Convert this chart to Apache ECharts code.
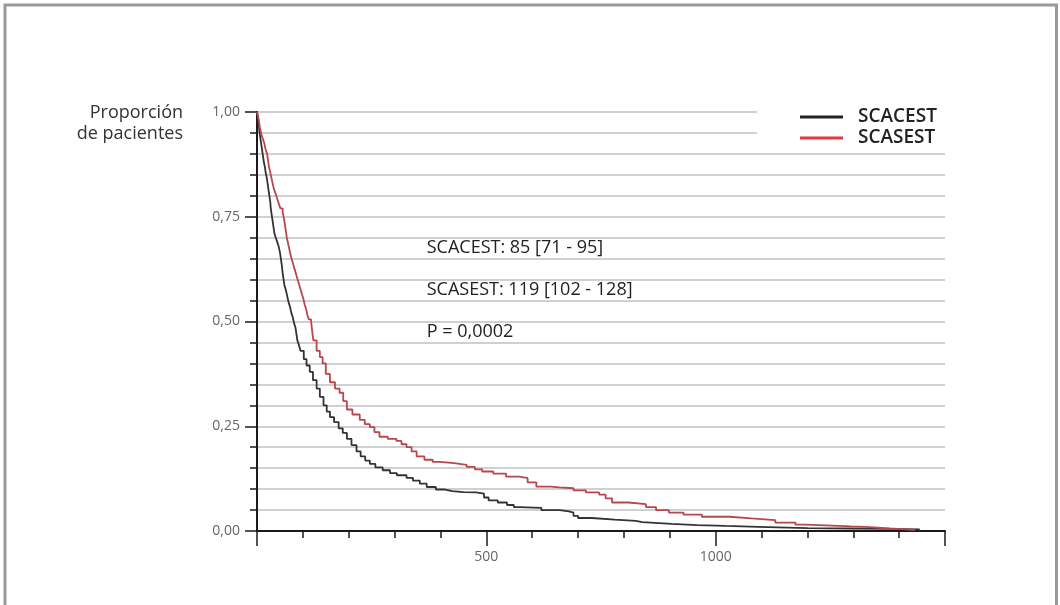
<!DOCTYPE html>
<html>
<head>
<meta charset="utf-8">
<script src="https://cdn.jsdelivr.net/npm/echarts@6/dist/echarts.min.js"></script>
<style>
  html, body { margin: 0; padding: 0; background: #fff; }
  #chart { width: 1060px; height: 605px; }
</style>
</head>
<body>
<div id="chart"></div>
<script>
// ---- Data (Kaplan-Meier step curves) ----
const seriesNames = ['SCACEST', 'SCASEST'];

const scacestTime = [0, 2, 4, 5, 7, 9, 11, 13, 15, 17, 19, 21, 23, 25, 27, 29, 30, 32, 34, 36, 38, 41, 44, 47, 50, 52, 54, 56, 58, 60, 63, 66, 69, 72, 75, 78, 81, 84, 86, 88, 91, 95, 102, 108, 115, 122, 130, 137, 145, 152, 159, 168, 178, 187, 196, 206, 217, 226, 236, 246, 258, 274, 290, 305, 326, 340, 355, 370, 390, 410, 426, 450, 478, 495, 505, 525, 545, 560, 572, 620, 660, 680, 690, 700, 730, 780, 826, 840, 904, 960, 1022, 1093, 1200, 1296, 1380, 1445];
const scacestSurv = [1.00, 0.99, 0.97, 0.955, 0.94, 0.925, 0.91, 0.895, 0.88, 0.87, 0.855, 0.845, 0.83, 0.815, 0.80, 0.785, 0.77, 0.755, 0.74, 0.725, 0.71, 0.70, 0.69, 0.68, 0.665, 0.65, 0.635, 0.615, 0.60, 0.585, 0.575, 0.56, 0.545, 0.535, 0.52, 0.51, 0.495, 0.485, 0.47, 0.455, 0.445, 0.43, 0.41, 0.395, 0.38, 0.36, 0.34, 0.32, 0.30, 0.285, 0.272, 0.26, 0.245, 0.234, 0.22, 0.205, 0.19, 0.178, 0.168, 0.16, 0.152, 0.145, 0.138, 0.133, 0.127, 0.12, 0.113, 0.105, 0.099, 0.095, 0.093, 0.092, 0.089, 0.08, 0.073, 0.068, 0.062, 0.057, 0.055, 0.05, 0.047, 0.044, 0.036, 0.031, 0.027, 0.024, 0.021, 0.017, 0.014, 0.012, 0.010, 0.007, 0.006, 0.005, 0.004, 0.004];

const scasestTime = [0, 2, 4, 6, 8, 10, 13, 16, 19, 22, 24, 26, 28, 30, 33, 36, 39, 42, 45, 48, 51, 56, 59, 61, 63, 65, 68, 71, 74, 78, 82, 86, 90, 94, 98, 101, 104, 107, 110, 113, 118, 121, 123, 130, 137, 143, 150, 159, 170, 180, 188, 196, 208, 224, 235, 246, 256, 267, 285, 304, 315, 326, 337, 348, 365, 383, 398, 430, 457, 475, 491, 515, 543, 572, 590, 609, 640, 659, 690, 717, 746, 760, 774, 810, 848, 870, 898, 930, 970, 1030, 1078, 1130, 1174, 1196, 1296, 1326, 1380, 1413, 1435];
const scasestSurv = [1.00, 0.99, 0.98, 0.965, 0.955, 0.945, 0.935, 0.925, 0.91, 0.90, 0.885, 0.87, 0.86, 0.85, 0.835, 0.82, 0.81, 0.80, 0.79, 0.78, 0.77, 0.76, 0.745, 0.73, 0.715, 0.70, 0.685, 0.67, 0.655, 0.64, 0.625, 0.61, 0.595, 0.58, 0.565, 0.555, 0.54, 0.53, 0.515, 0.505, 0.50, 0.47, 0.455, 0.43, 0.415, 0.40, 0.375, 0.355, 0.34, 0.33, 0.31, 0.29, 0.278, 0.265, 0.255, 0.248, 0.236, 0.225, 0.22, 0.215, 0.207, 0.20, 0.19, 0.178, 0.17, 0.165, 0.162, 0.158, 0.153, 0.147, 0.142, 0.137, 0.13, 0.126, 0.116, 0.106, 0.104, 0.102, 0.097, 0.092, 0.087, 0.078, 0.068, 0.064, 0.057, 0.05, 0.044, 0.039, 0.034, 0.03, 0.026, 0.02, 0.015, 0.011, 0.010, 0.006, 0.004, 0.002, 0.002];

const yTitleLines = ['Proporción', 'de pacientes'];
const annotations = ['SCACEST: 85 [71 - 95]', 'SCASEST: 119 [102 - 128]', 'P = 0,0002'];
const annotationY = [0.675, 0.575, 0.475];   // data-space rows of the annotation text
const xLabelValues = [500, 1000];

// ---- Build chart ----
const pairs = (t, s) => t.map((v, i) => [v, s[i]]);
const chart = echarts.init(document.getElementById('chart'), null, { renderer: 'canvas' });
const FONT = '"Open Sans", "Noto Sans", sans-serif';

const option = {
  animation: false,
  backgroundColor: '#ffffff',
  grid: { left: 257, right: 115, top: 112, bottom: 74, containLabel: false },
  xAxis: [
    {
      type: 'value', min: 0, max: 1500, interval: 100, position: 'bottom',
      axisLine: { show: true, lineStyle: { color: '#1a1a1a', width: 2 } },
      axisTick: { show: true, length: 7, lineStyle: { color: '#1a1a1a', width: 1.5 } },
      axisLabel: { show: false },
      splitLine: { show: false }
    },
    {
      type: 'value', min: 0, max: 1500, interval: 500, position: 'bottom', offset: 0,
      axisLine: { show: false },
      axisTick: { show: true, length: 15, lineStyle: { color: '#1a1a1a', width: 1.5 } },
      axisLabel: {
        show: true, margin: 19, color: '#666', fontSize: 14, fontFamily: FONT,
        formatter: v => (xLabelValues.indexOf(v) >= 0 ? String(v) : '')
      },
      splitLine: { show: false }
    }
  ],
  yAxis: [
    {
      type: 'value', min: 0, max: 1, interval: 0.05, position: 'left',
      axisLine: { show: true, lineStyle: { color: '#1a1a1a', width: 2 } },
      axisTick: { show: true, length: 7, lineStyle: { color: '#1a1a1a', width: 1.5 } },
      axisLabel: { show: false },
      splitLine: { show: true, lineStyle: { color: '#d0d0d0', width: 2 } }
    },
    {
      type: 'value', min: 0, max: 1, interval: 0.25, position: 'left', offset: 0,
      axisLine: { show: false },
      axisTick: { show: true, length: 12, lineStyle: { color: '#1a1a1a', width: 1.5 } },
      axisLabel: {
        show: true, margin: 17, color: '#666', fontSize: 14, fontFamily: FONT,
        formatter: v => v.toFixed(2).replace('.', ',')
      },
      splitLine: { show: false }
    }
  ],
  legend: {
    orient: 'vertical', left: 795, top: 102, z: 10,
    itemWidth: 43, itemHeight: 3, itemGap: 1, icon: 'rect',
    textStyle: { fontFamily: FONT, fontSize: 19, fontWeight: 600, color: '#222',
                 lineHeight: 20, padding: [0, 0, 0, 10] },
    data: [
      { name: seriesNames[0], itemStyle: { color: '#222222' } },
      { name: seriesNames[1], itemStyle: { color: '#e6393d' } }
    ]
  },
  graphic: [
    // outer frame
    { type: 'polyline', z: 1, shape: { points: [[5, 605], [5, 5], [1056.5, 5], [1056.5, 605]] },
      style: { stroke: '#9a9a9a', lineWidth: 3, fill: null } },
    // clear the top grid lines behind the legend
    { type: 'rect', z: 3, shape: { x: 757, y: 104, width: 200, height: 38 },
      style: { fill: '#ffffff' } },
    // y-axis title
    { type: 'text', z: 5, x: 183, y: 113,
      style: { text: yTitleLines[0], fill: '#333', font: '18px ' + FONT, textAlign: 'right', textVerticalAlign: 'middle' } },
    { type: 'text', z: 5, x: 183, y: 134,
      style: { text: yTitleLines[1], fill: '#333', font: '18px ' + FONT, textAlign: 'right', textVerticalAlign: 'middle' } }
  ],
  series: [
    {
      name: seriesNames[0], type: 'line', step: 'end', xAxisIndex: 0, yAxisIndex: 0,
      data: pairs(scacestTime, scacestSurv), showSymbol: false, symbol: 'none',
      lineStyle: { color: '#333333', width: 1.8 }, itemStyle: { color: '#222222' }, z: 3
    },
    {
      name: seriesNames[1], type: 'line', step: 'end', xAxisIndex: 0, yAxisIndex: 0,
      data: pairs(scasestTime, scasestSurv), showSymbol: false, symbol: 'none',
      lineStyle: { color: '#b8474c', width: 1.8 }, itemStyle: { color: '#e6393d' }, z: 3
    }
  ]
};

chart.setOption(option);

// annotation text positioned through the axis scales
const extra = annotations.map((txt, i) => {
  const p = chart.convertToPixel({ xAxisIndex: 0, yAxisIndex: 0 }, [370, annotationY[i]]);
  return { type: 'text', z: 5, x: p[0], y: p[1],
           style: { text: txt, fill: '#222', font: '18px ' + FONT, textAlign: 'left', textVerticalAlign: 'middle' } };
});
chart.setOption({ graphic: option.graphic.concat(extra) });
</script>
</body>
</html>
